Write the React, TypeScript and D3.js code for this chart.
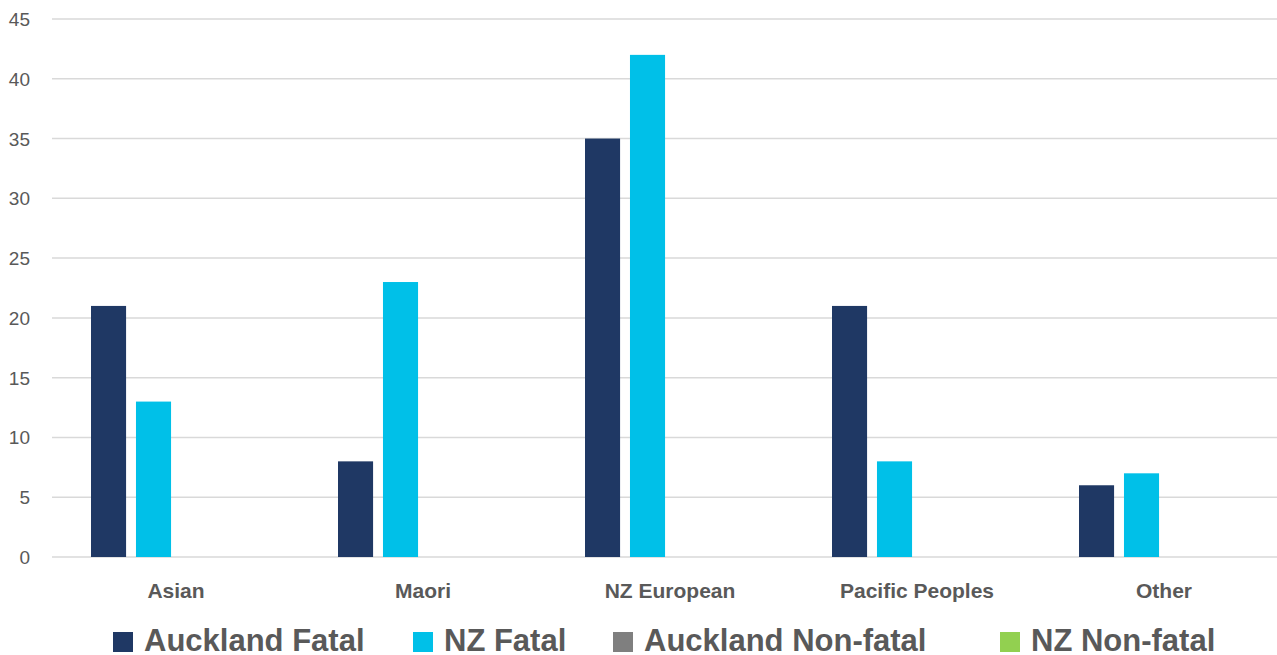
import React from "react";
import * as d3 from "d3";

const categories = ["Asian", "Maori", "NZ European", "Pacific Peoples", "Other"];
const seriesNames = ["Auckland Fatal", "NZ Fatal", "Auckland Non-fatal", "NZ Non-fatal"];
const aucklandFatal = [21, 8, 35, 21, 6];
const nzFatal = [13, 23, 42, 8, 7];
const aucklandNonFatal = [0, 0, 0, 0, 0];
const nzNonFatal = [0, 0, 0, 0, 0];
const yTicks = [0, 5, 10, 15, 20, 25, 30, 35, 40, 45];
const colors = ["#1F3864", "#00C0E8", "#7F7F7F", "#92D050"];

const W = 1277;
const H = 655;

export default function App() {
  const values = [aucklandFatal, nzFatal, aucklandNonFatal, nzNonFatal];
  const x0 = d3.scaleBand<string>().domain(categories).range([52.5, 1287.5]).padding(0);
  const x1 = d3
    .scaleBand<string>()
    .domain(seriesNames)
    .range([38.5, x0.bandwidth() - 38.5])
    .paddingInner(0.22)
    .paddingOuter(0);
  const y = d3.scaleLinear().domain([0, 45]).range([557, 19]);
  const font = "'Liberation Sans', Arial, sans-serif";
  const legendX = [113, 413, 613, 1000];
  return (
    <div style={{ position: "absolute", left: 0, top: 0 }}>
      <svg width={W} height={H} style={{ display: "block", background: "#fff" }}>
        {yTicks.map((t) => (
          <g key={t}>
            <line x1={52} x2={W} y1={y(t)} y2={y(t)} stroke="#D9D9D9" strokeWidth={1.5} />
            <text
              x={30}
              y={y(t) + 7}
              textAnchor="end"
              fontFamily={font}
              fontSize={19}
              fill="#595959"
            >
              {t}
            </text>
          </g>
        ))}
        {categories.map((c, ci) => (
          <g key={c} transform={`translate(${x0(c)},0)`}>
            {seriesNames.map((s, si) => {
              const v = values[si][ci];
              if (v <= 0) return null;
              return (
                <rect
                  key={s}
                  x={x1(s)}
                  y={y(v)}
                  width={x1.bandwidth()}
                  height={y(0) - y(v)}
                  fill={colors[si]}
                />
              );
            })}
            <text
              x={x0.bandwidth() / 2}
              y={598}
              textAnchor="middle"
              fontFamily={font}
              fontWeight="bold"
              fontSize={21}
              fill="#595959"
            >
              {c}
            </text>
          </g>
        ))}
        {seriesNames.map((s, si) => (
          <g key={s}>
            <rect x={legendX[si]} y={632} width={20} height={20} fill={colors[si]} />
            <text
              x={legendX[si] + 31}
              y={651}
              fontFamily={font}
              fontWeight="bold"
              fontSize={31}
              fill="#595959"
            >
              {s}
            </text>
          </g>
        ))}
      </svg>
    </div>
  );
}
